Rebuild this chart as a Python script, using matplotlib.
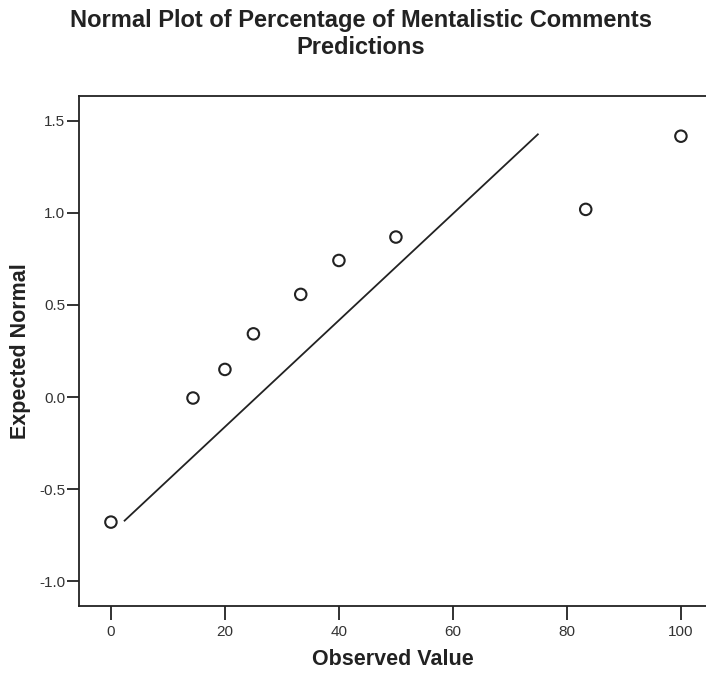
import matplotlib
matplotlib.use("Agg")
import matplotlib.pyplot as plt

observed = [0, 14.4, 20, 25, 33.3, 40, 50, 83.3, 100]
expected = [-0.678, -0.005, 0.15, 0.343, 0.557, 0.741, 0.868, 1.018, 1.415]
fit_x = [2.4, 74.9]
fit_y = [-0.67, 1.425]
x_ticks = [0, 20, 40, 60, 80, 100]
y_ticks = [-1.0, -0.5, 0.0, 0.5, 1.0, 1.5]
title = "Normal Plot of Percentage of Mentalistic Comments\nPredictions"

plt.rcParams['font.family'] = ['Liberation Sans Narrow', 'Liberation Sans', 'DejaVu Sans']

fig = plt.figure(figsize=(7.06, 6.73), dpi=100)
W, H = 706, 673
left, right, top, bottom = 79, 706, 96, 606
ax = fig.add_axes([left / W, 1 - bottom / H, (right - left) / W, (bottom - top) / H])

ax.plot(fit_x, fit_y, color='#222222', lw=1.3)
ax.scatter(observed, expected, s=68, facecolors='none', edgecolors='#222222', linewidths=1.5, zorder=3)

ax.set_xlim(-5.6, 104.4)
ax.set_ylim(-1.133, 1.633)
ax.set_xticks(x_ticks)
ax.set_xticklabels([str(v) for v in x_ticks])
ax.set_yticks(y_ticks)
ax.set_yticklabels([f"{v:.1f}" for v in y_ticks])
for s in ['left', 'bottom', 'top']:
    ax.spines[s].set_linewidth(1.3)
    ax.spines[s].set_color('#222222')
ax.spines['right'].set_visible(False)
ax.tick_params(axis='both', width=1.3, colors='#222222', labelsize=11, labelcolor='#333333')
ax.tick_params(axis='y', length=9, pad=1)
ax.tick_params(axis='x', length=10, pad=4)

ax.set_xlabel("Observed Value", fontsize=15.5, fontweight='bold', color='#222222', labelpad=7)
ax.set_ylabel("Expected Normal", fontsize=15.5, fontweight='bold', color='#222222', labelpad=6)
fig.text(361 / W, 1 - 34 / H, title, ha='center', va='center', fontsize=17,
         fontweight='bold', color='#222222', linespacing=1.2)

fig.savefig("out.png", dpi=100, facecolor='white')
